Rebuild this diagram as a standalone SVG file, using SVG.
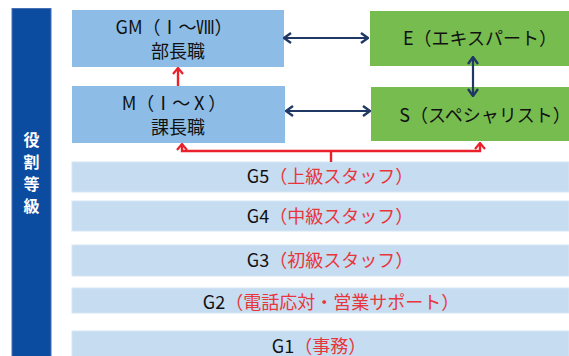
<svg xmlns="http://www.w3.org/2000/svg" width="569" height="356" viewBox="0 0 569 356">
<style>
text{font-family:"Noto Sans CJK JP","Noto Sans",sans-serif;font-size:18px;fill:#111;text-anchor:middle}
.red{fill:#e8363a}
.mgr{fill:#8dbde6}
.spc{fill:#77bc4f}
.grd{fill:#c5dcf1;stroke:#d6e6f5;stroke-width:1}
.blue{stroke:#1f3864;stroke-width:2.2;fill:none}
.redl{stroke:#e8212a;stroke-width:2.4;fill:none}
.side{font-weight:bold;fill:#fff;font-size:16px}
</style>
<defs>
<marker id="hb" viewBox="0 0 10 12" refX="9" refY="6" markerWidth="10" markerHeight="12" markerUnits="userSpaceOnUse" orient="auto-start-reverse">
<path d="M2,1 L9,6 L2,11" fill="none" stroke="#1f3864" stroke-width="2.4"/>
</marker>
<marker id="hr" viewBox="0 0 10 12" refX="9" refY="6" markerWidth="10" markerHeight="12" markerUnits="userSpaceOnUse" orient="auto">
<path d="M3,1 L9,6 L3,11" fill="none" stroke="#e8212a" stroke-width="2.2"/>
</marker>
</defs>
<g id="side">
<rect x="12" y="8.5" width="39" height="348" fill="#0b4ca1" stroke="#4a6fb3" stroke-width="1"/>
<text class="side" x="31.5" y="146">役</text>
<text class="side" x="31.5" y="168">割</text>
<text class="side" x="31.5" y="190">等</text>
<text class="side" x="31.5" y="212">級</text>
</g>
<g id="gm">
<rect class="mgr" x="72" y="10" width="212" height="57"/>
<text x="174" y="34">GM（Ⅰ～Ⅷ）</text>
<text x="178" y="58">部長職</text>
</g>
<g id="m">
<rect class="mgr" x="72" y="86" width="213" height="57"/>
<text x="174" y="110">M（Ⅰ～Ⅹ）</text>
<text x="178" y="134">課長職</text>
</g>
<g id="e">
<rect class="spc" x="370" y="11" width="199" height="55"/>
<text x="480" y="45">E（エキスパート）</text>
</g>
<g id="s">
<rect class="spc" x="371" y="87" width="198" height="54"/>
<text x="485" y="122">S（スペシャリスト）</text>
</g>
<g id="g5">
<rect class="grd" x="72" y="162" width="497" height="30"/>
<text x="330" y="183">G5<tspan class="red">（上級スタッフ）</tspan></text>
</g>
<g id="g4">
<rect class="grd" x="72" y="201" width="497" height="30"/>
<text x="330" y="223">G4<tspan class="red">（中級スタッフ）</tspan></text>
</g>
<g id="g3">
<rect class="grd" x="72" y="245" width="497" height="31"/>
<text x="330" y="267">G3<tspan class="red">（初級スタッフ）</tspan></text>
</g>
<g id="g2">
<rect class="grd" x="72" y="288" width="497" height="25"/>
<text x="331" y="309">G2<tspan class="red">（電話応対・営業サポート）</tspan></text>
</g>
<g id="g1">
<rect class="grd" x="72" y="331" width="497" height="26"/>
<text x="319" y="353">G1<tspan class="red">（事務）</tspan></text>
</g>
<g id="connectors">
<line class="blue" x1="284" y1="38" x2="368" y2="38" marker-start="url(#hb)" marker-end="url(#hb)"/>
<line class="blue" x1="286" y1="111" x2="370" y2="111" marker-start="url(#hb)" marker-end="url(#hb)"/>
<line class="blue" x1="473" y1="57" x2="473" y2="96" marker-start="url(#hb)" marker-end="url(#hb)"/>
<line class="redl" x1="178" y1="86" x2="178" y2="68" marker-end="url(#hr)"/>
<path class="redl" d="M331,162 V151"/>
<path class="redl" d="M331,151 H182 V144" marker-end="url(#hr)"/>
<path class="redl" d="M331,151 H480 V143" marker-end="url(#hr)"/>
</g>
</svg>
